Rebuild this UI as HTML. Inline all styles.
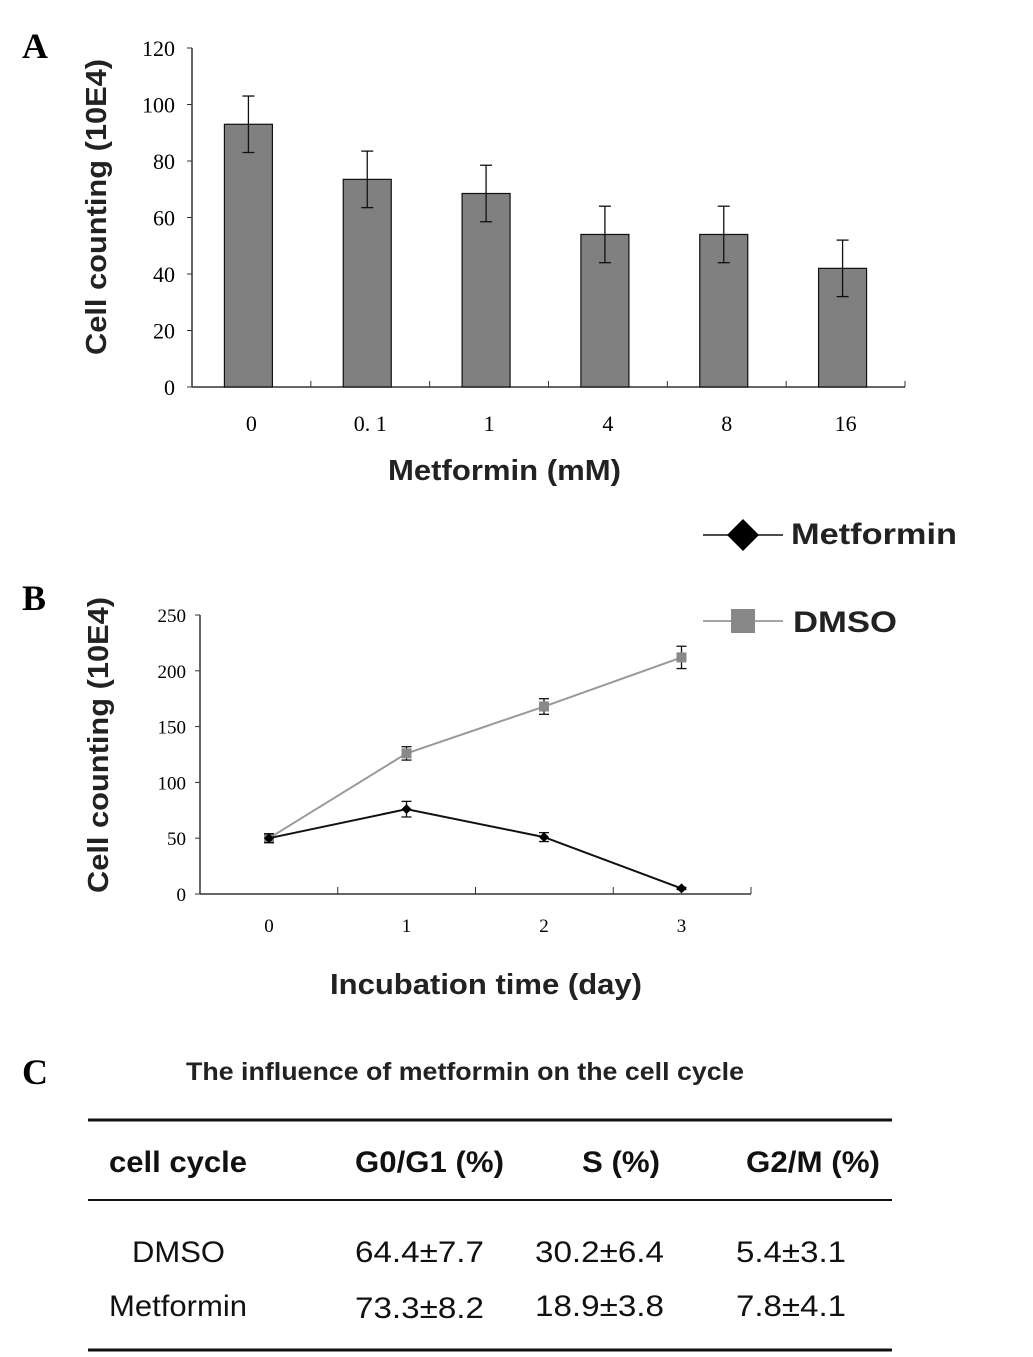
<!DOCTYPE html>
<html><head><meta charset="utf-8"><style>
body{margin:0;background:#fff;}
svg{display:block;}
.serif{font-family:"Liberation Serif",serif;}
.sans{font-family:"Liberation Sans",sans-serif;}
</style></head><body>
<svg id="fig" width="1033" height="1357" viewBox="0 0 1033 1357" xmlns="http://www.w3.org/2000/svg">
<text x="22" y="58" class="serif" font-size="36" font-weight="bold">A</text>
<text x="22" y="610" class="serif" font-size="36" font-weight="bold">B</text>
<text x="22" y="1084" class="serif" font-size="36" font-weight="bold">C</text>
<g id="chartA"></g>
<g id="chartB"></g>
<g>
<text x="186" y="1080" textLength="558" lengthAdjust="spacingAndGlyphs" class="sans" font-size="25" font-weight="bold" fill="#222">The influence of metformin on the cell cycle</text>
<line x1="88" y1="1120" x2="892" y2="1120" stroke="#111" stroke-width="3"/>
<line x1="88" y1="1200" x2="892" y2="1200" stroke="#111" stroke-width="2"/>
<line x1="88" y1="1350" x2="892" y2="1350" stroke="#111" stroke-width="3"/>
<g class="sans" font-size="30" fill="#111" lengthAdjust="spacingAndGlyphs">
<text x="109" y="1172" textLength="138" lengthAdjust="spacingAndGlyphs" font-weight="bold">cell cycle</text>
<text x="355" y="1172" textLength="149" lengthAdjust="spacingAndGlyphs" font-weight="bold">G0/G1 (%)</text>
<text x="582" y="1172" textLength="78" lengthAdjust="spacingAndGlyphs" font-weight="bold">S (%)</text>
<text x="746" y="1172" textLength="134" lengthAdjust="spacingAndGlyphs" font-weight="bold">G2/M (%)</text>
<text x="132" y="1262" textLength="93" lengthAdjust="spacingAndGlyphs">DMSO</text>
<text x="355" y="1262" textLength="129" lengthAdjust="spacingAndGlyphs">64.4±7.7</text>
<text x="535" y="1262" textLength="129" lengthAdjust="spacingAndGlyphs">30.2±6.4</text>
<text x="736" y="1262" textLength="110" lengthAdjust="spacingAndGlyphs">5.4±3.1</text>
<text x="109" y="1316" textLength="138" lengthAdjust="spacingAndGlyphs">Metformin</text>
<text x="355" y="1318" textLength="129" lengthAdjust="spacingAndGlyphs">73.3±8.2</text>
<text x="535" y="1316" textLength="129" lengthAdjust="spacingAndGlyphs">18.9±3.8</text>
<text x="736" y="1316" textLength="110" lengthAdjust="spacingAndGlyphs">7.8±4.1</text>
</g>
</g>
</svg>
<script>
const NS="http://www.w3.org/2000/svg";
// Panel A data
const catsA=["0","0. 1","1","4","8","16"];
const valsA=[93,73.5,68.5,54,54,42];
const errA=[10,10,10,10,10,10];
const ticksA=[0,20,40,60,80,100,120];
// Panel B data
const daysB=[0,1,2,3];
const metB=[50,76,51,5];
const metErr=[4,7,4,1];
const dmsoB=[50,126,168,212];
const dmsoErr=[4,6,7,10];
const ticksB=[0,50,100,150,200,250];

function mk(p,tag,at){const e=document.createElementNS(NS,tag);for(const k in at)e.setAttribute(k,at[k]);p.appendChild(e);return e;}

// Chart A
const A=document.getElementById('chartA');
const ax0=192,ax1=905,ay0=387,ay1=48;
const yA=v=>ay0-(v/120)*(ay0-ay1);
const bw=(ax1-ax0)/catsA.length;
const xA=i=>ax0+bw*(i+0.5)-3;
mk(A,'line',{x1:ax0,y1:ay1,x2:ax0,y2:ay0,stroke:'#333','stroke-width':1.5});
mk(A,'line',{x1:ax0,y1:ay0,x2:ax1,y2:ay0,stroke:'#333','stroke-width':1.5});
ticksA.forEach(t=>{
  mk(A,'line',{x1:ax0-5,y1:yA(t),x2:ax0,y2:yA(t),stroke:'#333'});
  const tx=mk(A,'text',{x:ax0-17,y:yA(t)+8,'text-anchor':'end','font-size':22,class:'serif'});
  
  
  tx.textContent=t;
});
for(let i=1;i<=catsA.length;i++){const x=ax0+bw*i;mk(A,'line',{x1:x,y1:ay0-6,x2:x,y2:ay0,stroke:'#333'});}
catsA.forEach((c,i)=>{
  const r=mk(A,'rect',{x:xA(i)-24,y:yA(valsA[i]),width:48,height:ay0-yA(valsA[i]),fill:'#808080',stroke:'#111','stroke-width':1.2});
  
  
  const hi=yA(valsA[i]+errA[i]),lo=yA(valsA[i]-errA[i]);
  mk(A,'line',{x1:xA(i),y1:hi,x2:xA(i),y2:lo,stroke:'#111','stroke-width':1.3});
  mk(A,'line',{x1:xA(i)-6,y1:hi,x2:xA(i)+6,y2:hi,stroke:'#111','stroke-width':1.3});
  mk(A,'line',{x1:xA(i)-6,y1:lo,x2:xA(i)+6,y2:lo,stroke:'#111','stroke-width':1.3});
  const tx=mk(A,'text',{x:xA(i)+3,y:431,'text-anchor':'middle','font-size':22,class:'serif'});
  
  
  tx.textContent=c;
});
let t=mk(A,'text',{x:388,y:480,textLength:233,lengthAdjust:'spacingAndGlyphs','font-size':29,'font-weight':'bold',class:'sans',fill:'#222'});


t.textContent='Metformin (mM)';
t=mk(A,'text',{x:-148,y:0,textLength:296,lengthAdjust:'spacingAndGlyphs','font-size':29,'font-weight':'bold',class:'sans',fill:'#222',transform:'translate(106,207) rotate(-90)'});


t.textContent='Cell counting (10E4)';

// Chart B
const B=document.getElementById('chartB');
const bx0=200,bx1=751,by0=894,by1=615;
const yB=v=>by0-(v/250)*(by0-by1);
const xB=d=>269+d*137.5;
mk(B,'line',{x1:bx0,y1:by1,x2:bx0,y2:by0,stroke:'#333','stroke-width':1.5});
mk(B,'line',{x1:bx0,y1:by0,x2:bx1,y2:by0,stroke:'#333','stroke-width':1.5});
ticksB.forEach(v=>{
  mk(B,'line',{x1:bx0-5,y1:yB(v),x2:bx0,y2:yB(v),stroke:'#333'});
  const tx=mk(B,'text',{x:bx0-14,y:yB(v)+7,'text-anchor':'end','font-size':19,class:'serif'});
  
  
  tx.textContent=v;
});
for(let i=1;i<=4;i++){const x=bx0+i*137.75;mk(B,'line',{x1:x,y1:by0-7,x2:x,y2:by0,stroke:'#333'});}
daysB.forEach(d=>{
  const tx=mk(B,'text',{x:xB(d),y:932,'text-anchor':'middle','font-size':19,class:'serif'});
  
  
  tx.textContent=d;
});
function series(vals,errs,color,marker,name){
  const pl=mk(B,'polyline',{points:daysB.map((d,i)=>xB(d)+','+yB(vals[i])).join(' '),fill:'none',stroke:color,'stroke-width':2});
  
  
  daysB.forEach((d,i)=>{
    const x=xB(d),y=yB(vals[i]),hi=yB(vals[i]+errs[i]),lo=yB(vals[i]-errs[i]);
    mk(B,'line',{x1:x,y1:hi,x2:x,y2:lo,stroke:'#111','stroke-width':1.3});
    mk(B,'line',{x1:x-5,y1:hi,x2:x+5,y2:hi,stroke:'#111','stroke-width':1.3});
    mk(B,'line',{x1:x-5,y1:lo,x2:x+5,y2:lo,stroke:'#111','stroke-width':1.3});
    let m;
    if(marker==='d') m=mk(B,'path',{d:`M${x},${y-5}L${x+5},${y}L${x},${y+5}L${x-5},${y}Z`,fill:'#000'});
    else m=mk(B,'rect',{x:x-5,y:y-5,width:10,height:10,fill:'#888'});
    
    
  });
}
series(dmsoB,dmsoErr,'#999','s','dmso');
series(metB,metErr,'#111','d','metformin');
t=mk(B,'text',{x:330,y:994,textLength:312,lengthAdjust:'spacingAndGlyphs','font-size':29,'font-weight':'bold',class:'sans',fill:'#222'});


t.textContent='Incubation time (day)';
t=mk(B,'text',{x:-148,y:0,textLength:296,lengthAdjust:'spacingAndGlyphs','font-size':29,'font-weight':'bold',class:'sans',fill:'#222',transform:'translate(108,745) rotate(-90)'});


t.textContent='Cell counting (10E4)';
// legend
mk(B,'line',{x1:703,y1:535,x2:783,y2:535,stroke:'#111','stroke-width':1.5});
mk(B,'path',{d:'M743,519L759,535L743,551L727,535Z',fill:'#000'});
t=mk(B,'text',{x:791,y:544,textLength:166,lengthAdjust:'spacingAndGlyphs','font-size':30,'font-weight':'bold',class:'sans',fill:'#222'});


t.textContent='Metformin';
mk(B,'line',{x1:703,y1:621,x2:783,y2:621,stroke:'#888','stroke-width':1.5});
mk(B,'rect',{x:731,y:609,width:24,height:24,fill:'#888'});
t=mk(B,'text',{x:793,y:632,textLength:104,lengthAdjust:'spacingAndGlyphs','font-size':30,'font-weight':'bold',class:'sans',fill:'#222'});


t.textContent='DMSO';
</script>
</body></html>
